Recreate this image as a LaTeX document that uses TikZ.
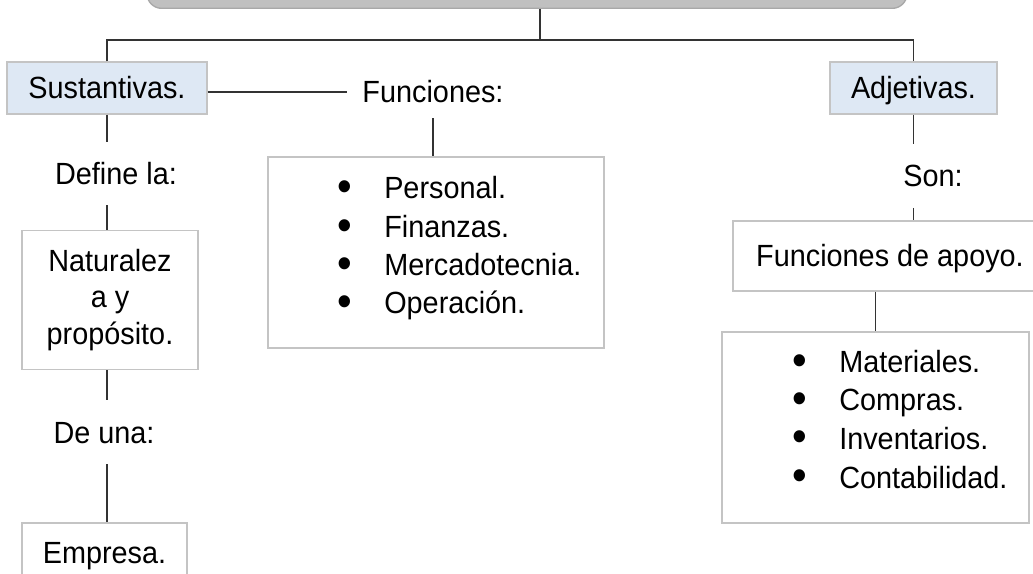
\documentclass[tikz,border=0pt]{standalone}
\usepackage{fontspec}
\setmainfont{Liberation Sans}[FakeStretch=0.94]
\usepackage{xcolor}
\usepackage{tikz}

\definecolor{celeste}{HTML}{DEE8F4}
\definecolor{grisbarra}{HTML}{C0C0C0}
\definecolor{grisborde}{HTML}{A8A8A8}
\definecolor{bordeclaro}{HTML}{C4C4C4}
\newcommand{\punto}[1]{\makebox[35.25pt][l]{\smash{\raisebox{-1.6pt}{\scalebox{1.45}{\textbullet}}}}#1}

\begin{document}
\begin{tikzpicture}[x=0.75pt,y=-0.75pt,
 every node/.style={font=\fontsize{23pt}{27.5pt}\selectfont},
 tema/.style={draw=grisborde,fill=grisbarra,rounded corners=11pt,line width=1pt},
 clase/.style={draw=bordeclaro,fill=celeste,line width=1pt,inner sep=0pt,text height=16.5pt,text depth=0pt},
 caja/.style={draw=bordeclaro,fill=white,line width=1pt,inner sep=0pt,align=center},
 nexo/.style={inner sep=0pt,text height=16.5pt,text depth=0pt},
 item/.style={inner sep=0pt,anchor=west,text height=16.5pt,text depth=0pt},
 linea/.style={draw=black!80,line width=0.9pt}]
 \useasboundingbox (0,0) rectangle (1033,574);

 % tema y clases
 \node[tema,minimum width=570pt,minimum height=45pt,anchor=south] (tema) at (527,9) {};
 \coordinate (bus) at (540,40);
 \node[clase,minimum width=150pt,minimum height=39pt] (sus) at (107,88) {Sustantivas.};
 \node[clase,minimum width=125.25pt,minimum height=39pt] (adj) at (913.5,88) {Adjetivas.};

 % rama central
 \node[nexo,inner xsep=11.25pt,minimum height=39pt] (fun) at (433,92) {Funciones:};
 \node[caja,minimum width=252pt,minimum height=143.25pt] (funlist) at (436,252.5) {};
 \foreach \y/\t [count=\i] in {188/Personal.,227/Finanzas.,265/Mercadotecnia.,303/Operación.}
  \node[item] (fun\i) at (337,\y) {\punto{\t}};

 % rama izquierda
 \node[nexo,minimum height=47.25pt] (def) at (116,173.5) {Define la:};
 \node[caja,minimum width=132pt,minimum height=104.25pt] (nat) at (110,300) {Naturalez\\a y\\propósito.};
 \node[nexo,minimum height=48pt] (una) at (104,432) {De una:};
 \node[caja,minimum width=123.75pt,minimum height=43.5pt,text height=16.5pt,text depth=0pt] (emp) at (104.5,552) {Empresa.};

 % rama derecha
 \node[nexo,minimum height=47.25pt] (son) at (933,176) {Son:};
 \node[caja,minimum width=235.5pt,minimum height=52.5pt,text height=16.5pt,text depth=0pt] (apoyo) at (890,256) {Funciones de apoyo.};
 \node[caja,minimum width=230.25pt,minimum height=143.25pt] (matl) at (875.5,427.5) {};
 \foreach \y/\t [count=\i] in {362/Materiales.,400/Compras.,438/Inventarios.,477/Contabilidad.}
  \node[item] (matl\i) at (792,\y) {\punto{\t}};

 % conectores
 \draw[linea] (tema.south -| bus) -- (bus);
 \draw[linea] (sus.north) |- (bus) -| (adj.north);
 \draw[linea] (fun.west -| sus.east) -- (fun.west);
 \draw[linea] (fun.south) -- (fun.south |- funlist.north);
 \draw[linea] (sus.south) -- (sus.south |- def.north);
 \draw[linea] (sus.south |- def.south) -- (sus.south |- nat.north);
 \draw[linea] (sus.south |- nat.south) -- (sus.south |- una.north);
 \draw[linea] (sus.south |- una.south) -- (sus.south |- emp.north);
 \draw[linea] (adj.south) -- (adj.south |- son.north);
 \draw[linea] (adj.south |- son.south) -- (adj.south |- apoyo.north);
 \draw[linea] (apoyo.south -| matl.north) -- (matl.north);
\end{tikzpicture}
\end{document}
